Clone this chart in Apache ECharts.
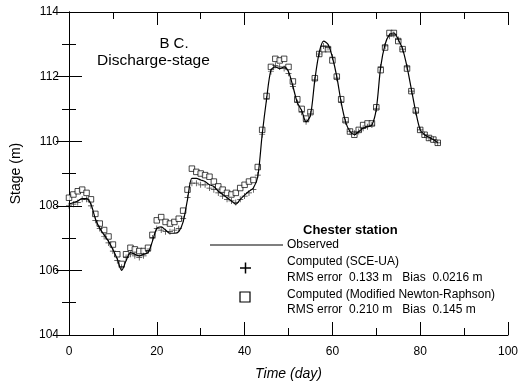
<!DOCTYPE html>
<html><head><meta charset="utf-8">
<script src="https://cdn.jsdelivr.net/npm/echarts@6/dist/echarts.min.js"></script>
<style>html,body{margin:0;padding:0;background:#fff}#c{width:521px;height:383px}</style>
</head><body><div id="c"></div>
<script>
const days = [0,1,2,3,4,5,6,7,8,9,10,11,12,13,14,15,16,17,18,19,20,21,22,23,24,25,26,27,28,29,30,31,32,33,34,35,36,37,38,39,40,41,42,43,44,45,46,47,48,49,50,51,52,53,54,55,56,57,58,59,60,61,62,63,64,65,66,67,68,69,70,71,72,73,74,75,76,77,78,79,80,81,82,83,84];
const observed = [108.05,108.1,108.15,108.22,108.22,108.05,107.6,107.3,107.1,106.9,106.65,106.35,106.0,106.3,106.55,106.5,106.45,106.5,106.55,106.9,107.3,107.35,107.25,107.15,107.15,107.2,107.5,108.2,108.85,108.85,108.8,108.75,108.65,108.6,108.45,108.35,108.25,108.15,108.05,108.2,108.33,108.45,108.55,108.9,110.2,111.3,112.2,112.3,112.25,112.3,112.15,111.7,111.2,110.95,110.6,110.8,111.9,112.75,113.1,113.0,112.6,112.0,111.2,110.6,110.3,110.2,110.3,110.4,110.45,110.5,111.0,112.3,113.0,113.3,113.35,113.15,112.85,112.3,111.6,110.9,110.35,110.2,110.12,110.05,109.95];
const sceua = [108.0,108.05,108.1,108.2,108.2,108.0,107.55,107.3,107.05,106.85,106.6,106.3,106.1,106.4,106.5,106.45,106.4,106.45,106.6,107.0,107.3,107.25,107.2,107.2,107.25,107.3,107.6,108.25,108.7,108.7,108.65,108.65,108.55,108.5,108.4,108.3,108.2,108.15,108.1,108.2,108.3,108.4,108.5,108.95,110.2,111.3,112.15,112.35,112.3,112.25,112.1,111.7,111.2,110.9,110.6,110.85,111.9,112.7,112.95,112.9,112.6,111.95,111.2,110.6,110.3,110.25,110.3,110.4,110.45,110.5,111.0,112.3,112.95,113.25,113.3,113.15,112.85,112.3,111.55,110.9,110.35,110.2,110.1,110.05,109.95];
const newton = [108.25,108.35,108.45,108.5,108.4,108.2,107.75,107.45,107.25,107.05,106.8,106.5,106.2,106.5,106.7,106.65,106.6,106.6,106.7,107.1,107.55,107.65,107.5,107.45,107.5,107.6,107.85,108.5,109.15,109.05,109.0,108.95,108.9,108.75,108.6,108.5,108.4,108.35,108.4,108.55,108.65,108.75,108.8,109.2,110.35,111.4,112.3,112.55,112.5,112.55,112.3,111.85,111.3,111.0,110.7,110.9,111.95,112.7,112.85,112.85,112.5,112.0,111.3,110.65,110.3,110.2,110.35,110.5,110.55,110.55,111.05,112.2,112.9,113.35,113.35,113.1,112.85,112.25,111.55,110.95,110.35,110.2,110.1,110.05,109.95];
const xTicks = [0,20,40,60,80,100];
const yTicks = [104,106,108,110,112,114];
const legendLines = ["Chester station","Observed","Computed (SCE-UA)","RMS error  0.133 m   Bias  0.0216 m","Computed (Modified Newton-Raphson)","RMS error  0.210 m   Bias  0.145 m"];

const pair = arr => days.map((d,i)=>[d,arr[i]]);
const FONT = 'Liberation Sans, Arial, sans-serif';
const PLUS = 'path://M4.4,0H5.6V4.4H10V5.6H5.6V10H4.4V5.6H0V4.4H4.4Z';
const tickCommon = {
  axisLine:{show:true,lineStyle:{color:'#000',width:1}},
  axisTick:{show:true,inside:true,length:13,lineStyle:{color:'#000',width:1}},
  minorTick:{show:true,splitNumber:2,length:7,lineStyle:{color:'#000',width:1}},
  splitLine:{show:false}
};
const chart = echarts.init(document.getElementById('c'),null,{renderer:'canvas'});
chart.setOption({
  animation:false,
  backgroundColor:'#fff',
  grid:{left:69,right:13,top:12,bottom:48,containLabel:false,outerBoundsMode:'none'},
  xAxis:[
    Object.assign({type:'value',min:xTicks[0],max:xTicks[xTicks.length-1],interval:20,position:'bottom',
      name:'Time (day)',nameLocation:'middle',nameGap:32,
      nameTextStyle:{fontFamily:FONT,fontSize:14,fontStyle:'italic',color:'#000'},
      axisLabel:{fontFamily:FONT,fontSize:12,color:'#000',margin:11}},tickCommon),
    Object.assign({type:'value',min:0,max:100,interval:20,position:'top',axisLabel:{show:false}},tickCommon)
  ],
  yAxis:[
    Object.assign({type:'value',min:yTicks[0],max:yTicks[yTicks.length-1],interval:2,position:'left',
      name:'Stage (m)',nameLocation:'middle',nameGap:46,
      nameTextStyle:{fontFamily:FONT,fontSize:14,color:'#000'},
      axisLabel:{fontFamily:FONT,fontSize:12,color:'#000',margin:10}},tickCommon),
    Object.assign({type:'value',min:104,max:114,interval:2,position:'right',axisLabel:{show:false}},tickCommon)
  ],
  series:[
    {type:'line',name:'Observed',data:pair(observed),showSymbol:false,smooth:0.3,
      lineStyle:{color:'#000',width:1.2},z:3},
    {type:'scatter',name:'SCE-UA',data:pair(sceua),symbol:PLUS,symbolSize:6,
      itemStyle:{color:'#000'},z:4},
    {type:'scatter',name:'Newton',data:pair(newton),symbol:'rect',symbolSize:5.5,
      itemStyle:{color:'#fff',borderColor:'#000',borderWidth:0.9},z:2}
  ],
  graphic:[
    {type:'text',style:{text:'B C.',x:174,y:44,fill:'#000',font:'15px '+FONT,textAlign:'center',textVerticalAlign:'middle'}},
    {type:'text',style:{text:'Discharge-stage',x:97,y:61,fill:'#000',font:'15.5px '+FONT,textVerticalAlign:'middle'}},
    {type:'text',style:{text:legendLines[0],x:303,y:230,fill:'#000',font:'bold 13px '+FONT,textVerticalAlign:'middle'}},
    {type:'line',shape:{x1:210,y1:245,x2:283,y2:245},style:{stroke:'#000',lineWidth:1.2}},
    {type:'text',style:{text:legendLines[1],x:287,y:245,fill:'#000',font:'12px '+FONT,textVerticalAlign:'middle'}},
    {type:'text',style:{text:legendLines[2],x:287,y:262,fill:'#000',font:'12px '+FONT,textVerticalAlign:'middle'}},
    {type:'text',style:{text:legendLines[3],x:287,y:278,fill:'#000',font:'12px '+FONT,textVerticalAlign:'middle'}},
    {type:'text',style:{text:legendLines[4],x:287,y:295,fill:'#000',font:'12px '+FONT,textVerticalAlign:'middle'}},
    {type:'text',style:{text:legendLines[5],x:287,y:310,fill:'#000',font:'12px '+FONT,textVerticalAlign:'middle'}},
    {type:'line',shape:{x1:240,y1:268,x2:251,y2:268},style:{stroke:'#000',lineWidth:1.5}},
    {type:'line',shape:{x1:245.5,y1:262.5,x2:245.5,y2:273.5},style:{stroke:'#000',lineWidth:1.5}},
    {type:'rect',shape:{x:240,y:292,width:10,height:10},style:{stroke:'#000',lineWidth:1.2,fill:'#fff'}}
  ]
});
</script></body></html>
